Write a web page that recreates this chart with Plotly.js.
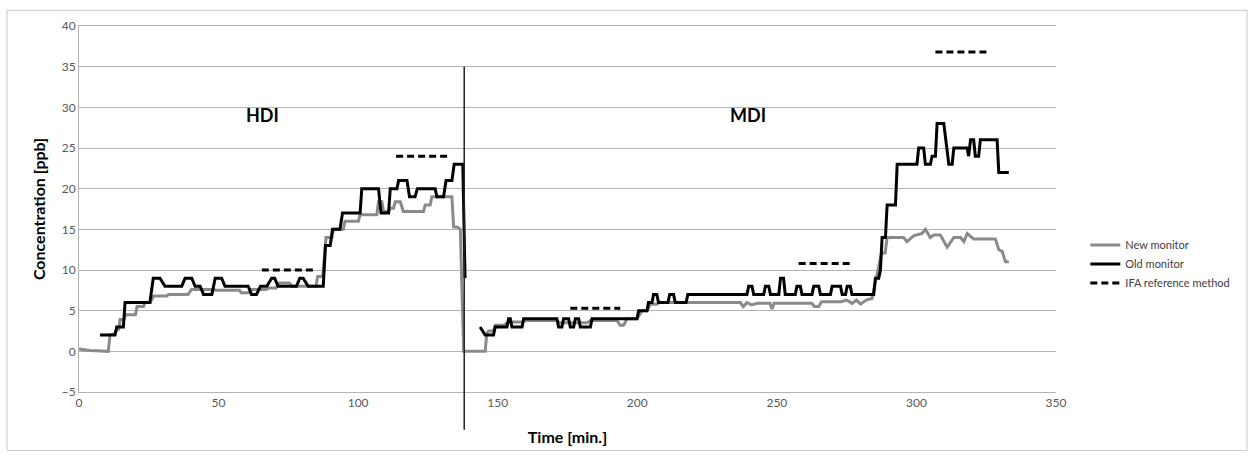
<!DOCTYPE html>
<html>
<head>
<meta charset="utf-8">
<script src="https://cdn.plot.ly/plotly-3.0.1.min.js"></script>
<style>html,body{margin:0;padding:0;background:#fff;}#chart{width:1251px;height:456px;}</style>
</head>
<body>
<div id="chart"></div>
<script>
// New monitor (grey)
const newT = [0,2,4,10.5,11.1,13,13.5,14.2,14.7,16.1,16.7,18.7,20.2,20.8,23.1,23.7,25.5,26.7,31.5,32,39.1,40.3,48,49.2,57.5,58.1,61.1,61.7,67,68.2,70.6,71.8,75.3,76.5,84.9,85.5,87.3,88.5,90.6,91.2,94.7,95.3,100.1,100.7,106.7,107.3,108.5,109.1,110.9,111.5,112.7,113.3,115.1,116.2,123.4,124,125.8,126.4,133.6,134.2,135.4,136.6,137.2,137.8,145.5,146.1,146.7,148.5,149.1,152.1,153.9,159.2,160,171,172.4,182,183.2,192.7,193.9,195.1,196.3,199.9,201.7,203.5,204.7,207,208,236.9,238,239.3,241,243,247.5,248.3,249,262.5,263.5,265,266,273,275,277,278.5,280,282,284.1,285,286.3,287.5,288.8,289.5,295.4,296.6,299,302,303.2,305,306.2,308.6,311,313.4,315.8,317,318.2,320.5,328.3,329.5,330.7,331.9,333.1];
const newV = [0.3,0.2,0.1,0,2,2.2,2.7,2.7,3.9,3.9,4.5,4.5,4.5,5.5,5.5,6,6,6.8,6.8,7,7,7.6,7.6,7.5,7.5,7.2,7.2,7.6,7.6,7.8,7.8,8.4,8.4,8,8,9.2,9.2,14,14,15,15,16,16,16.8,16.8,18.4,18.4,17.2,17.2,17.6,17.6,18.4,18.4,17.2,17.2,18,18,19,19,15.3,15.3,15,8,0,0,2.2,2.5,2.5,3.2,3.2,3.6,3.6,3.8,3.8,3.5,3.5,3.8,3.8,3.2,3.2,4,4,5,5,5.8,5.8,6,6,5.5,6,5.7,5.9,5.9,5.2,5.9,5.9,5.5,5.5,6.1,6.1,6.3,5.9,6.3,5.8,6.3,6.5,8,10,12.1,12.1,14,14,13.5,14.2,14.5,15,14,14.3,14.3,12.8,14,14,13.5,14.5,13.8,13.8,12.5,12.3,11,11];

// Old monitor (black); null splits HDI and MDI runs
const oldT = [7.5,12.9,13.5,15.9,16.5,25.4,26.6,29,30.8,36.8,38,40.4,41.6,43.4,44.6,47.6,48.8,51.1,52.3,60.6,61.8,63.6,65,67.3,69,70.1,71.3,77.9,79.1,80.3,82.1,87.5,88.3,90,90.8,93.5,94.4,100.7,101.3,107.3,108.2,110.9,111.5,113.9,114.5,117.5,118.4,120.4,121.2,127.6,128.2,130.6,131.5,133.6,134.4,137.5,138.3,null,143.7,145.5,148.5,149.1,153.3,153.9,154.5,155.1,158.7,159.3,171.2,171.8,173,173.6,175.4,176,177.2,177.8,179,179.6,183.2,183.8,199.9,200.5,203.5,204,205.3,205.8,207,207.6,211,211.6,213,213.6,217.5,218.1,239.3,239.9,241.1,241.7,245.3,245.9,247.1,247.7,250.7,251.3,252.4,253,256.6,257.2,258.4,259,262.6,263.2,265,265.6,269.2,269.8,272.8,273.4,274.6,275.2,276.3,276.9,284.7,285.3,286.5,287.1,287.7,288.9,289.5,292.5,293.1,300.2,300.8,302.6,303.2,305,305.6,306.8,307.4,309.8,311.6,312.8,313.4,318.2,318.7,319.4,320.5,321.1,322.3,322.9,328.9,329.5,333.1];
const oldV = [2,2,3,3,6,6,9,9,8,8,9,9,8,8,7,7,9,9,8,8,7,7,8,8,9,9,8,8,9,9,8,8,13,13,15,15,17,17,20,20,17,17,20,20,21,21,19,19,20,20,19,19,21,21,23,23,9,null,3,2,2,3,3,4,4,3,3,4,4,3,3,4,4,3,3,4,4,3,3,4,4,5,5,6,6,7,7,6,6,7,7,6,6,7,7,8,8,7,7,8,8,7,7,9,9,7,7,8,8,7,7,8,8,7,7,8,8,7,7,8,8,7,7,9,9,10,14,14,18,18,23,23,25,25,23,23,24,24,28,28,23,23,25,25,24,26,26,24,24,26,26,22,22];

// IFA reference method (dashed segments)
const ifaT = [65.5,84.6,null,113.6,132,null,176,193.9,null,257.8,276.3,null,306.8,325.3];
const ifaV = [10,10,null,24,24,null,5.3,5.3,null,10.8,10.8,null,36.8,36.8];

const seriesNames = ['New monitor','Old monitor','IFA reference method'];
const phaseLabels = ['HDI','MDI'];
const phaseX = [65.6,239.8];
const phaseY = [29,29];
const separatorX = 138;

const FONT = 'Lato, "Open Sans", sans-serif';
const traces = [
  {x:newT, y:newV, name:seriesNames[0], mode:'lines', line:{color:'#8a8a8a', width:3}},
  {x:oldT, y:oldV, name:seriesNames[1], mode:'lines', connectgaps:false, line:{color:'#000000', width:3}},
  {x:ifaT, y:ifaV, name:seriesNames[2], mode:'lines', connectgaps:false, line:{color:'#000000', width:3, dash:'7px,4px'}}
];
const layout = {
  width:1251, height:456,
  margin:{l:79, r:195, t:26, b:64},
  paper_bgcolor:'#ffffff', plot_bgcolor:'#ffffff',
  font:{family:FONT, size:11, color:'#404040'},
  showlegend:true,
  legend:{x:1.03, y:0.35, xanchor:'left', yanchor:'middle', font:{family:FONT, size:11, color:'#404040'}, itemwidth:30, bgcolor:'rgba(0,0,0,0)'},
  xaxis:{range:[0,350], dtick:50, tick0:0, showgrid:false, zeroline:false, showline:true, mirror:true, linecolor:'#b3b3b3', linewidth:1, ticks:'', tickfont:{family:FONT, size:12, color:'#595959'},
    title:{text:'<b>Time [min.]</b>', font:{family:FONT, size:16, color:'#000'}, standoff:22}},
  yaxis:{range:[-5,40], dtick:5, tick0:-5, showgrid:true, gridcolor:'#b3b3b3', gridwidth:1, zeroline:false, showline:true, linecolor:'#b3b3b3', ticks:'', tickfont:{family:FONT, size:12, color:'#595959'},
    title:{text:'<b>Concentration [ppb]</b>', font:{family:FONT, size:16, color:'#000'}, standoff:12}},
  annotations:phaseLabels.map((t,i)=>({x:phaseX[i], y:phaseY[i], xref:'x', yref:'y', text:'<b>'+t+'</b>', showarrow:false, font:{family:FONT, size:18, color:'#000'}})),
  shapes:[
    {type:'line', xref:'x', yref:'paper', x0:separatorX, x1:separatorX, y0:-0.103, y1:0.889, line:{color:'#222', width:1.5}},
    {type:'rect', xref:'paper', yref:'paper', x0:-0.0737, x1:1.1955, y0:-0.16, y1:1.043, line:{color:'#c8c8c8', width:1}}
  ]
};
Plotly.newPlot('chart', traces, layout, {displayModeBar:false, staticPlot:true});
</script>
</body>
</html>
